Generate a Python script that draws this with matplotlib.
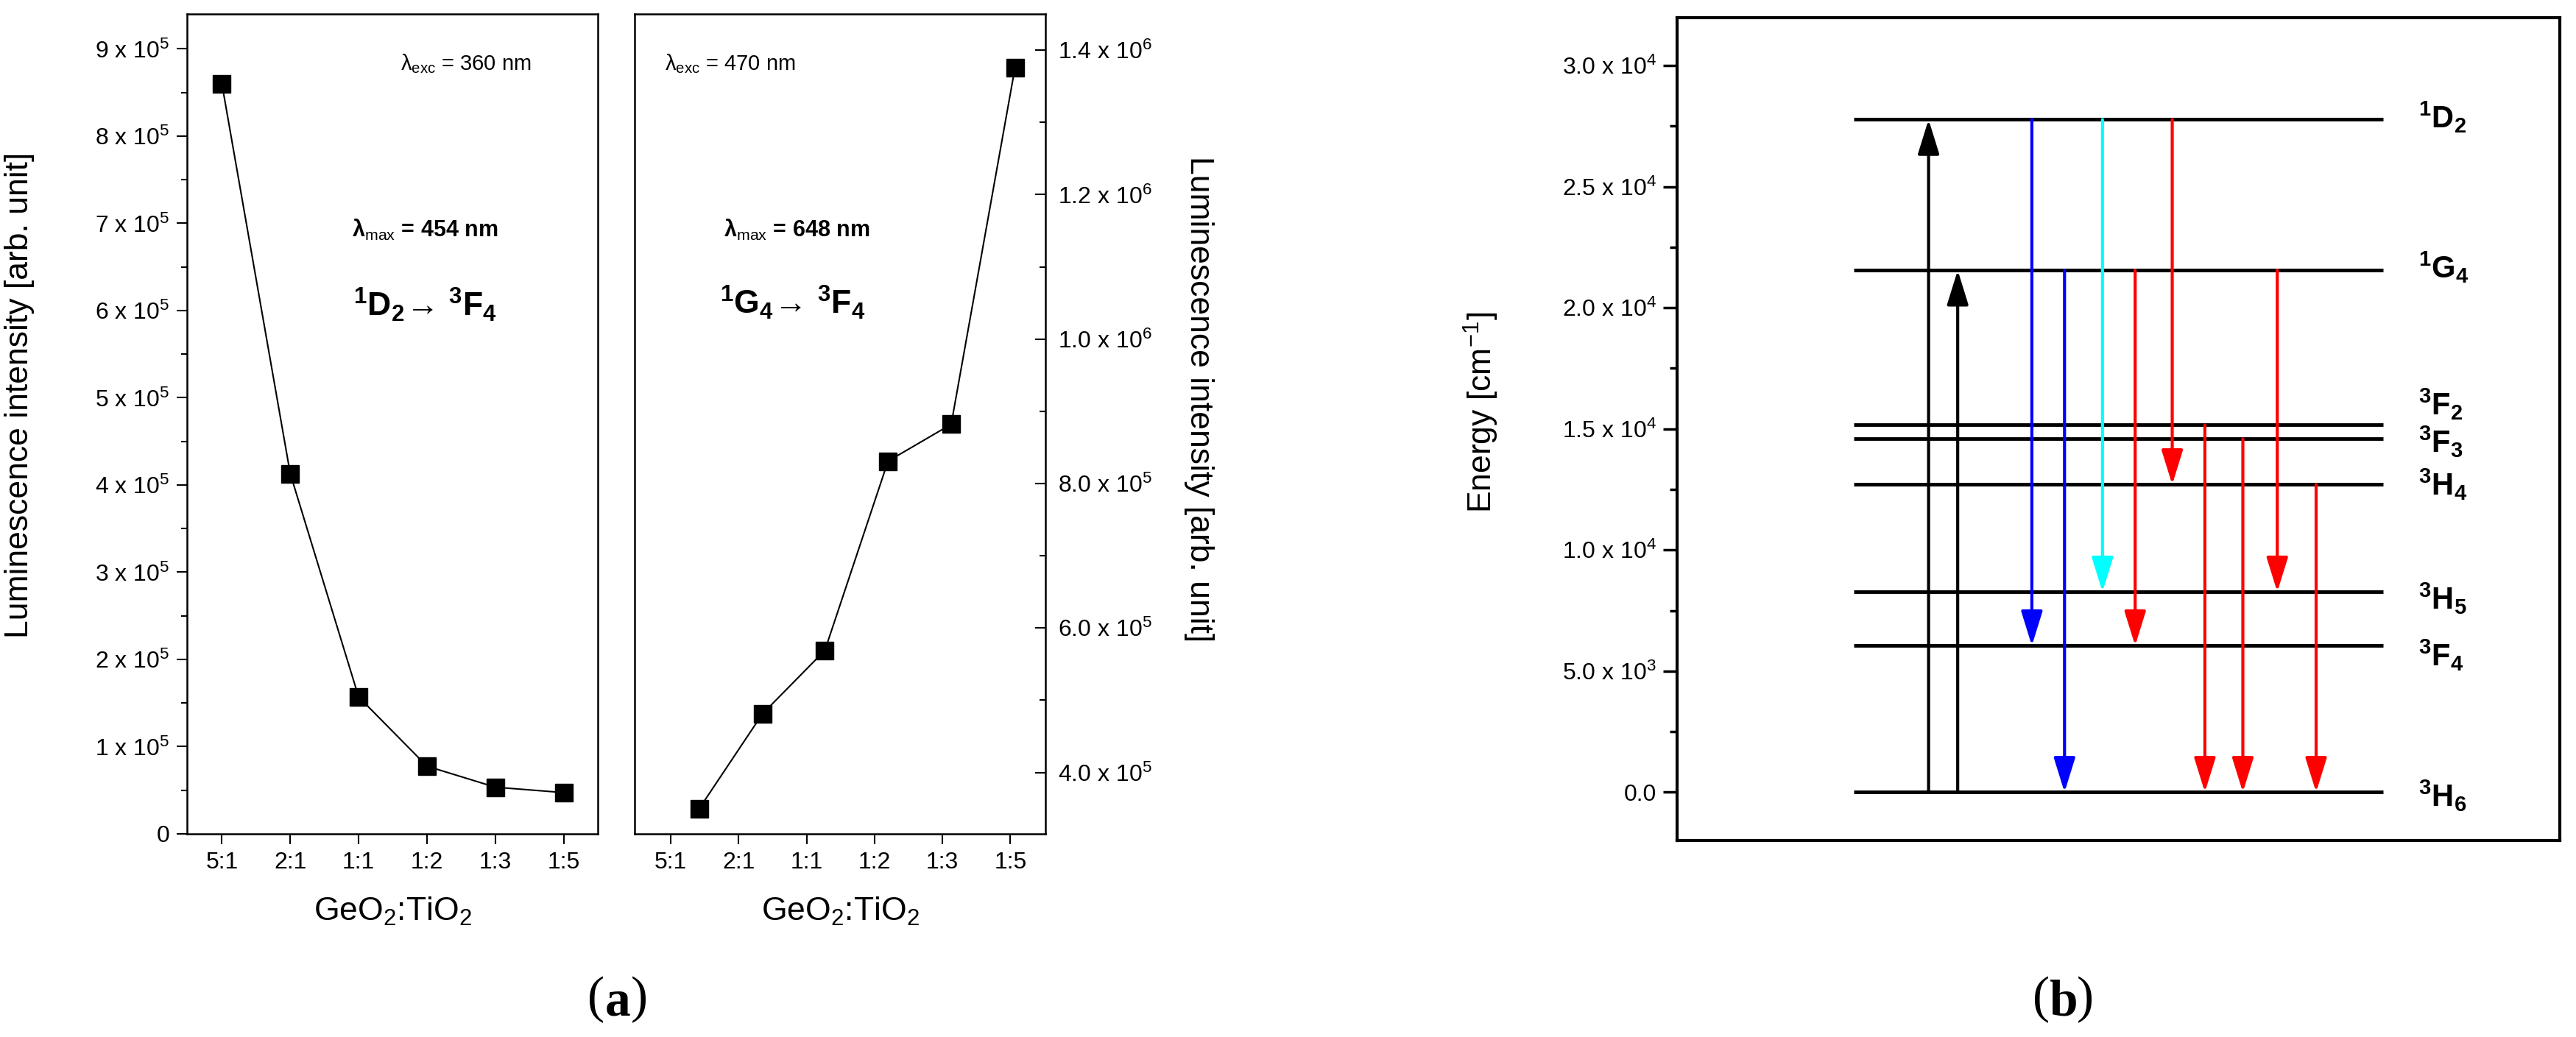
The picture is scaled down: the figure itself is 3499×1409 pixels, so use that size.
import numpy as np
import matplotlib
matplotlib.use('Agg')
import matplotlib.pyplot as plt
from matplotlib.ticker import MultipleLocator

plt.rcParams['font.family'] = ['Liberation Sans', 'DejaVu Sans']
plt.rcParams['mathtext.fontset'] = 'custom'
plt.rcParams['mathtext.rm'] = 'Liberation Sans'
plt.rcParams['mathtext.it'] = 'Liberation Sans:italic'
plt.rcParams['mathtext.bf'] = 'Liberation Sans:bold'

# --- data, panel (a) ---
ratios = ['5:1', '2:1', '1:1', '1:2', '1:3', '1:5']
ratio_pos = [0, 1, 2, 3, 4, 5]

# 1D2 -> 3F4 emission (lambda_exc = 360 nm)
pos_454 = [0, 1, 2, 3, 4, 5]
int_454 = [8.60e5, 4.13e5, 1.57e5, 0.776e5, 0.535e5, 0.473e5]

# 1G4 -> 3F4 emission (lambda_exc = 470 nm)
pos_648 = [0.42, 1.35, 2.27, 3.20, 4.13, 5.07]
int_648 = [3.50e5, 4.81e5, 5.69e5, 8.31e5, 8.82e5, 1.376e6]

left_ticks = [0, 1e5, 2e5, 3e5, 4e5, 5e5, 6e5, 7e5, 8e5, 9e5]
left_labels = ['0', '1 x 10$^5$', '2 x 10$^5$', '3 x 10$^5$', '4 x 10$^5$',
               '5 x 10$^5$', '6 x 10$^5$', '7 x 10$^5$', '8 x 10$^5$', '9 x 10$^5$']
right_ticks = [4e5, 6e5, 8e5, 1.0e6, 1.2e6, 1.4e6]
right_labels = ['4.0 x 10$^5$', '6.0 x 10$^5$', '8.0 x 10$^5$',
                '1.0 x 10$^6$', '1.2 x 10$^6$', '1.4 x 10$^6$']

# --- data, panel (b): Tm3+ energy levels ---
level_names = [r'${}^{\mathbf{3}}\mathbf{H}_{\mathbf{6}}$', r'${}^{\mathbf{3}}\mathbf{F}_{\mathbf{4}}$',
               r'${}^{\mathbf{3}}\mathbf{H}_{\mathbf{5}}$', r'${}^{\mathbf{3}}\mathbf{H}_{\mathbf{4}}$',
               r'${}^{\mathbf{3}}\mathbf{F}_{\mathbf{3}}$', r'${}^{\mathbf{3}}\mathbf{F}_{\mathbf{2}}$',
               r'${}^{\mathbf{1}}\mathbf{G}_{\mathbf{4}}$', r'${}^{\mathbf{1}}\mathbf{D}_{\mathbf{2}}$']
level_energy = [0, 6050, 8270, 12700, 14590, 15160, 21550, 27770]
label_energy = [-150, 5650, 8000, 12700, 14450, 16000, 21650, 27850]

energy_ticks = [0, 5e3, 1e4, 1.5e4, 2e4, 2.5e4, 3e4]
energy_labels = ['0.0', '5.0 x 10$^3$', '1.0 x 10$^4$', '1.5 x 10$^4$',
                 '2.0 x 10$^4$', '2.5 x 10$^4$', '3.0 x 10$^4$']

# (x position, start level, end level, colour)
transitions = [
    (2.85, 0, 7, 'black'),
    (3.18, 0, 6, 'black'),
    (4.02, 7, 1, '#0000ff'),
    (4.39, 6, 0, '#0000ff'),
    (4.82, 7, 2, '#00ffff'),
    (5.19, 6, 1, '#ff0000'),
    (5.61, 7, 3, '#ff0000'),
    (5.98, 5, 0, '#ff0000'),
    (6.41, 4, 0, '#ff0000'),
    (6.80, 6, 2, '#ff0000'),
    (7.24, 3, 0, '#ff0000'),
]

fig = plt.figure(figsize=(34.99, 14.09), dpi=100)

ax1 = fig.add_axes([0.0726, 0.1959, 0.1595, 0.7906])
ax2 = fig.add_axes([0.2464, 0.1959, 0.1595, 0.7906])
ax3 = fig.add_axes([0.6510, 0.1895, 0.3427, 0.7935])

# left panel
ax1.plot(pos_454, int_454, '-s', color='black', ms=17, lw=1.5)
ax1.set_xlim(-0.51, 5.5)
ax1.set_ylim(0, 9.4e5)
ax1.set_xticks(ratio_pos)
ax1.set_xticklabels(ratios)
ax1.set_yticks(left_ticks)
ax1.set_yticklabels(left_labels)
ax1.yaxis.set_minor_locator(MultipleLocator(0.5e5))
ax1.tick_params(axis='both', which='major', direction='out', length=10, width=1.5, labelsize=23, pad=7)
ax1.tick_params(axis='y', which='minor', direction='out', length=6, width=1.5)
ax1.set_xlabel('GeO$_2$:TiO$_2$', fontsize=32, labelpad=22)
ax1.set_ylabel('Luminescence intensity [arb. unit]', fontsize=32)
ax1.yaxis.set_label_coords(-0.371, 0.535)
ax1.text(0.52, 0.939, 'λ$_{\\mathrm{exc}}$ = 360 nm', transform=ax1.transAxes, fontsize=21, va='center')
ax1.text(0.58, 0.737, 'λ$_{\\mathrm{max}}$ = 454 nm', transform=ax1.transAxes, fontsize=22,
         fontweight='bold', ha='center', va='center')
ax1.text(0.58, 0.646, r'${}^{\mathbf{1}}\mathbf{D}_{\mathbf{2}}\!\rightarrow\,{}^{\mathbf{3}}\mathbf{F}_{\mathbf{4}}$',
         transform=ax1.transAxes, fontsize=32, ha='center', va='center')

# middle panel
ax2.plot(pos_648, int_648, '-s', color='black', ms=17, lw=1.5)
ax2.set_xlim(-0.53, 5.52)
ax2.set_ylim(3.15e5, 1.45e6)
ax2.set_xticks(ratio_pos)
ax2.set_xticklabels(ratios)
ax2.yaxis.tick_right()
ax2.yaxis.set_label_position('right')
ax2.set_yticks(right_ticks)
ax2.set_yticklabels(right_labels)
ax2.yaxis.set_minor_locator(MultipleLocator(1e5))
ax2.tick_params(axis='x', which='major', direction='out', length=10, width=1.5, labelsize=23, pad=7)
ax2.tick_params(axis='y', which='major', direction='in', length=10, width=1.5, labelsize=23, pad=12)
ax2.tick_params(axis='y', which='minor', direction='in', length=6, width=1.5)
ax2.set_xlabel('GeO$_2$:TiO$_2$', fontsize=32, labelpad=22)
ax2.set_ylabel('Luminescence intensity [arb. unit]', fontsize=32, rotation=270)
ax2.yaxis.set_label_coords(1.409, 0.53)
ax2.text(0.074, 0.939, 'λ$_{\\mathrm{exc}}$ = 470 nm', transform=ax2.transAxes, fontsize=21, va='center')
ax2.text(0.395, 0.737, 'λ$_{\\mathrm{max}}$ = 648 nm', transform=ax2.transAxes, fontsize=22,
         fontweight='bold', ha='center', va='center')
ax2.text(0.385, 0.648, r'${}^{\mathbf{1}}\mathbf{G}_{\mathbf{4}}\!\rightarrow\,{}^{\mathbf{3}}\mathbf{F}_{\mathbf{4}}$',
         transform=ax2.transAxes, fontsize=32, ha='center', va='center')

for ax in (ax1, ax2):
    for s in ax.spines.values():
        s.set_linewidth(1.8)

# energy level diagram
ax3.hlines(level_energy, 2, 8, color='black', lw=3.5)
for x, i0, i1, c in transitions:
    ax3.annotate('', xy=(x, level_energy[i1]), xytext=(x, level_energy[i0]),
                 arrowprops=dict(arrowstyle='-|>,head_length=1.45,head_width=0.45',
                                 color=c, lw=3, shrinkA=0, shrinkB=0, mutation_scale=20))
for name, ly in zip(level_names, label_energy):
    ax3.text(8.4, ly, name, fontsize=30, ha='left', va='center')
ax3.set_xlim(0, 10)
ax3.set_ylim(-1990, 31975)
ax3.set_xticks([])
ax3.set_yticks(energy_ticks)
ax3.set_yticklabels(energy_labels)
ax3.yaxis.set_minor_locator(MultipleLocator(2500))
ax3.tick_params(axis='y', which='major', direction='out', length=14, width=2.5, labelsize=23, pad=6)
ax3.tick_params(axis='y', which='minor', direction='out', length=7, width=2.5)
ax3.set_ylabel('Energy [cm$^{-1}$]', fontsize=32)
ax3.yaxis.set_label_coords(-0.2, 0.52)
for s in ax3.spines.values():
    s.set_linewidth(3)

# panel letters
for cx, letter in [(0.2398, 'a'), (0.801, 'b')]:
    fig.text(cx, 0.033, letter, family='Liberation Serif', fontsize=50, fontweight='bold', ha='center', va='center')
    fig.text(cx - 0.0052, 0.036, '(', family='Liberation Serif', fontsize=50, ha='right', va='center')
    fig.text(cx + 0.0052, 0.036, ')', family='Liberation Serif', fontsize=50, ha='left', va='center')

fig.savefig('out.png', dpi=100, facecolor='white')
